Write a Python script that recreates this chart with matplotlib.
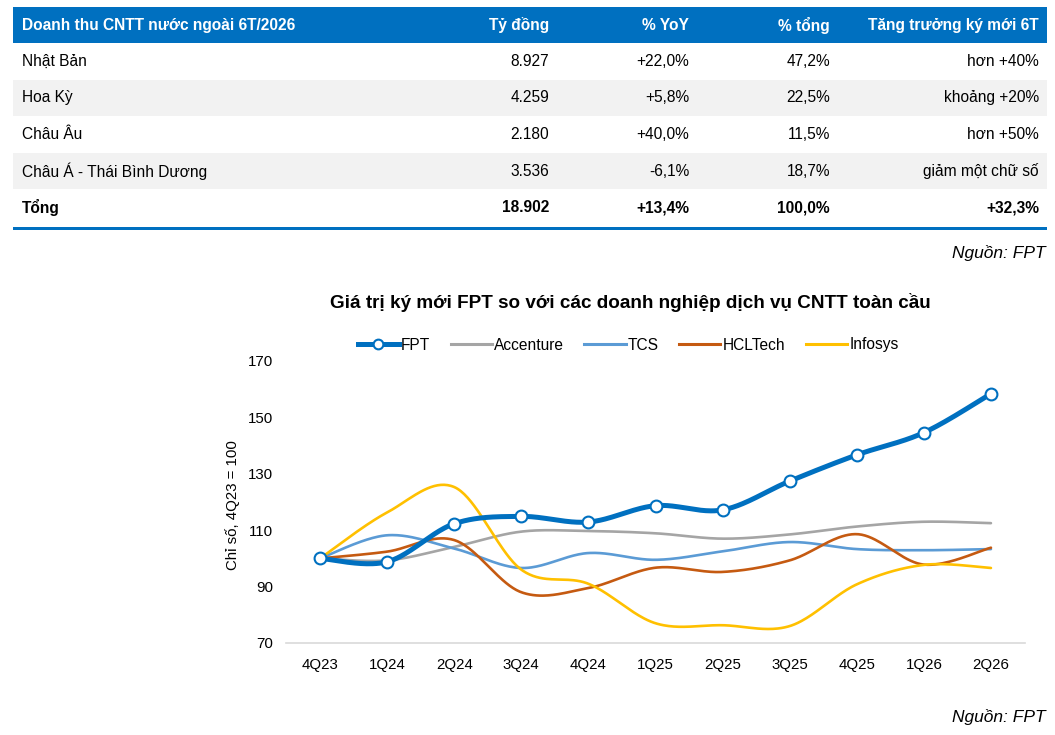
import numpy as np
import matplotlib
matplotlib.use("Agg")
import matplotlib.pyplot as plt
from matplotlib.patches import Rectangle
from matplotlib.lines import Line2D

plt.rcParams['font.family'] = ['Liberation Sans', 'DejaVu Sans']

# ---------------- data ----------------
table_header = ["Doanh thu CNTT nước ngoài 6T/2026", "Tỷ đồng", "% YoY", "% tổng", "Tăng trưởng ký mới 6T"]
regions = ["Nhật Bản", "Hoa Kỳ", "Châu Âu", "Châu Á - Thái Bình Dương", "Tổng"]
revenue = ["8.927", "4.259", "2.180", "3.536", "18.902"]
yoy = ["+22,0%", "+5,8%", "+40,0%", "-6,1%", "+13,4%"]
share = ["47,2%", "22,5%", "11,5%", "18,7%", "100,0%"]
new_deals = ["hơn +40%", "khoảng +20%", "hơn +50%", "giảm một chữ số", "+32,3%"]

quarters = ["4Q23", "1Q24", "2Q24", "3Q24", "4Q24", "1Q25", "2Q25", "3Q25", "4Q25", "1Q26", "2Q26"]
fpt = [100, 98.8, 112.3, 114.9, 112.9, 118.7, 117.2, 127.4, 136.7, 144.6, 158.4]
accenture = [100, 99.3, 104.1, 109.5, 109.7, 108.9, 107.0, 108.5, 111.3, 113.0, 112.5]
tcs = [100, 108.2, 103.5, 96.6, 101.9, 99.5, 102.5, 105.8, 103.3, 102.9, 103.3]
hcltech = [100, 102.4, 106.5, 88.0, 89.5, 96.7, 95.2, 99.3, 108.6, 97.8, 103.8]
infosys = [100, 116.3, 125.3, 96.0, 91.0, 77.0, 76.3, 76.0, 90.8, 97.7, 96.6]

chart_title = "Giá trị ký mới FPT so với các doanh nghiệp dịch vụ CNTT toàn cầu"
y_label = "Chỉ số, 4Q23 = 100"
source = "Nguồn: FPT"

BLUE = "#0070C0"

# ---------------- figure ----------------
W, H = 1055, 735
fig = plt.figure(figsize=(W / 100, H / 100), dpi=100)

# overlay axes in pixel coords for the table
tab = fig.add_axes([0, 0, 1, 1])
tab.set_xlim(0, W)
tab.set_ylim(H, 0)
tab.axis("off")

left, right = 13, 1047
hdr_top, hdr_bot = 7, 43
row_h = 36.6
tab.add_patch(Rectangle((left, hdr_top), right - left, hdr_bot - hdr_top, color=BLUE, lw=0))
col_right = [None, 549, 689, 830, 1039]
text_left = 22
fs_tab = 11.2
cy = (hdr_top + hdr_bot) / 2
tab.text(text_left, cy, table_header[0], color="white", fontsize=11.2, fontweight="bold", va="center", ha="left")
for j in range(1, 5):
    tab.text(col_right[j], cy, table_header[j], color="white", fontsize=11.2, fontweight="bold", va="center", ha="right")

for i, reg in enumerate(regions):
    top = hdr_bot + i * row_h
    if i % 2 == 1:
        tab.add_patch(Rectangle((left, top), right - left, row_h, color="#F2F2F2", lw=0))
    yc = top + row_h / 2
    bold = "bold" if i == len(regions) - 1 else "normal"
    vals = [revenue[i], yoy[i], share[i], new_deals[i]]
    tab.text(text_left, yc, reg, fontsize=fs_tab, fontweight=bold, va="center", ha="left")
    for j, v in enumerate(vals):
        tab.text(col_right[j + 1], yc, v, fontsize=fs_tab, fontweight=bold, va="center", ha="right")
line_y = hdr_bot + len(regions) * row_h + 1.0
tab.add_patch(Rectangle((left, line_y), right - left, 3, color=BLUE, lw=0))
tab.text(1046, 253, source, fontsize=12.5, style="italic", ha="right", va="center")
tab.text(1046, 717, source, fontsize=12.5, style="italic", ha="right", va="center")
tab.text(630, 302, chart_title, fontsize=13.6, fontweight="bold", ha="center", va="center")
tab.text(233, 505, y_label, fontsize=10.8, rotation=90, ha="center", va="center")

# ---------------- chart ----------------
ax_l, ax_r = 286.5, 1024.5
ax_t, ax_b = 361, 643
ax = fig.add_axes([ax_l / W, (H - ax_b) / H, (ax_r - ax_l) / W, (ax_b - ax_t) / H])
ax.patch.set_alpha(0)


def smooth(y, n=40):
    y = np.asarray(y, dtype=float)
    x = np.arange(len(y), dtype=float)
    P = np.column_stack([x, y])
    ext = np.vstack([P[0], P, P[-1]])
    out = []
    for i in range(len(P) - 1):
        p0, p1, p2, p3 = ext[i], ext[i + 1], ext[i + 2], ext[i + 3]
        c1 = p1 + (p2 - p0) / 6.0
        c2 = p2 - (p3 - p1) / 6.0
        t = np.linspace(0, 1, n, endpoint=(i == len(P) - 2))[:, None]
        seg = (1 - t) ** 3 * p1 + 3 * (1 - t) ** 2 * t * c1 + 3 * (1 - t) * t ** 2 * c2 + t ** 3 * p2
        out.append(seg)
    out = np.vstack(out)
    return out[:, 0], out[:, 1]


series = [
    ("Accenture", accenture, "#A5A5A5", 1.9),
    ("TCS", tcs, "#5B9BD5", 1.9),
    ("HCLTech", hcltech, "#C55A11", 1.9),
    ("Infosys", infosys, "#FFC000", 1.9),
]
for name, vals, col, lw in series:
    sx, sy = smooth(vals)
    ax.plot(sx, sy, color=col, lw=lw, solid_capstyle="round", zorder=2)

sx, sy = smooth(fpt)
ax.plot(sx, sy, color=BLUE, lw=3.6, solid_capstyle="round", zorder=3)
ax.plot(np.arange(len(fpt)), fpt, ls="none", marker="o", ms=8.5, mfc="white", mec=BLUE, mew=1.5, zorder=4, clip_on=False)

ax.set_xlim(-0.5, len(quarters) - 0.5)
ax.set_ylim(70, 170)
ax.set_yticks([70, 90, 110, 130, 150, 170])
ax.set_xticks(np.arange(len(quarters)))
ax.set_xticklabels(quarters)
ax.tick_params(axis="both", length=0, labelsize=10.8)
ax.tick_params(axis="x", pad=11)
ax.tick_params(axis="y", pad=(ax_l - 273) * 72 / 100)
for s in ["top", "right", "left"]:
    ax.spines[s].set_visible(False)
ax.spines["bottom"].set_color("#D9D9D9")
ax.spines["bottom"].set_linewidth(1.2)

handles = [Line2D([], [], color=BLUE, lw=3.6, marker="o", ms=7, mfc="white", mec=BLUE, mew=1.5)]
labels = ["FPT"]
for name, vals, col, lw in series:
    handles.append(Line2D([], [], color=col, lw=2.2))
    labels.append(name)
fig.legend(handles, labels, loc="center", bbox_to_anchor=(628 / W, (H - 345) / H), ncol=5,
           frameon=False, fontsize=11.2, handlelength=2.65, handletextpad=0.15, columnspacing=1.3)

fig.savefig("out.png", dpi=100)
